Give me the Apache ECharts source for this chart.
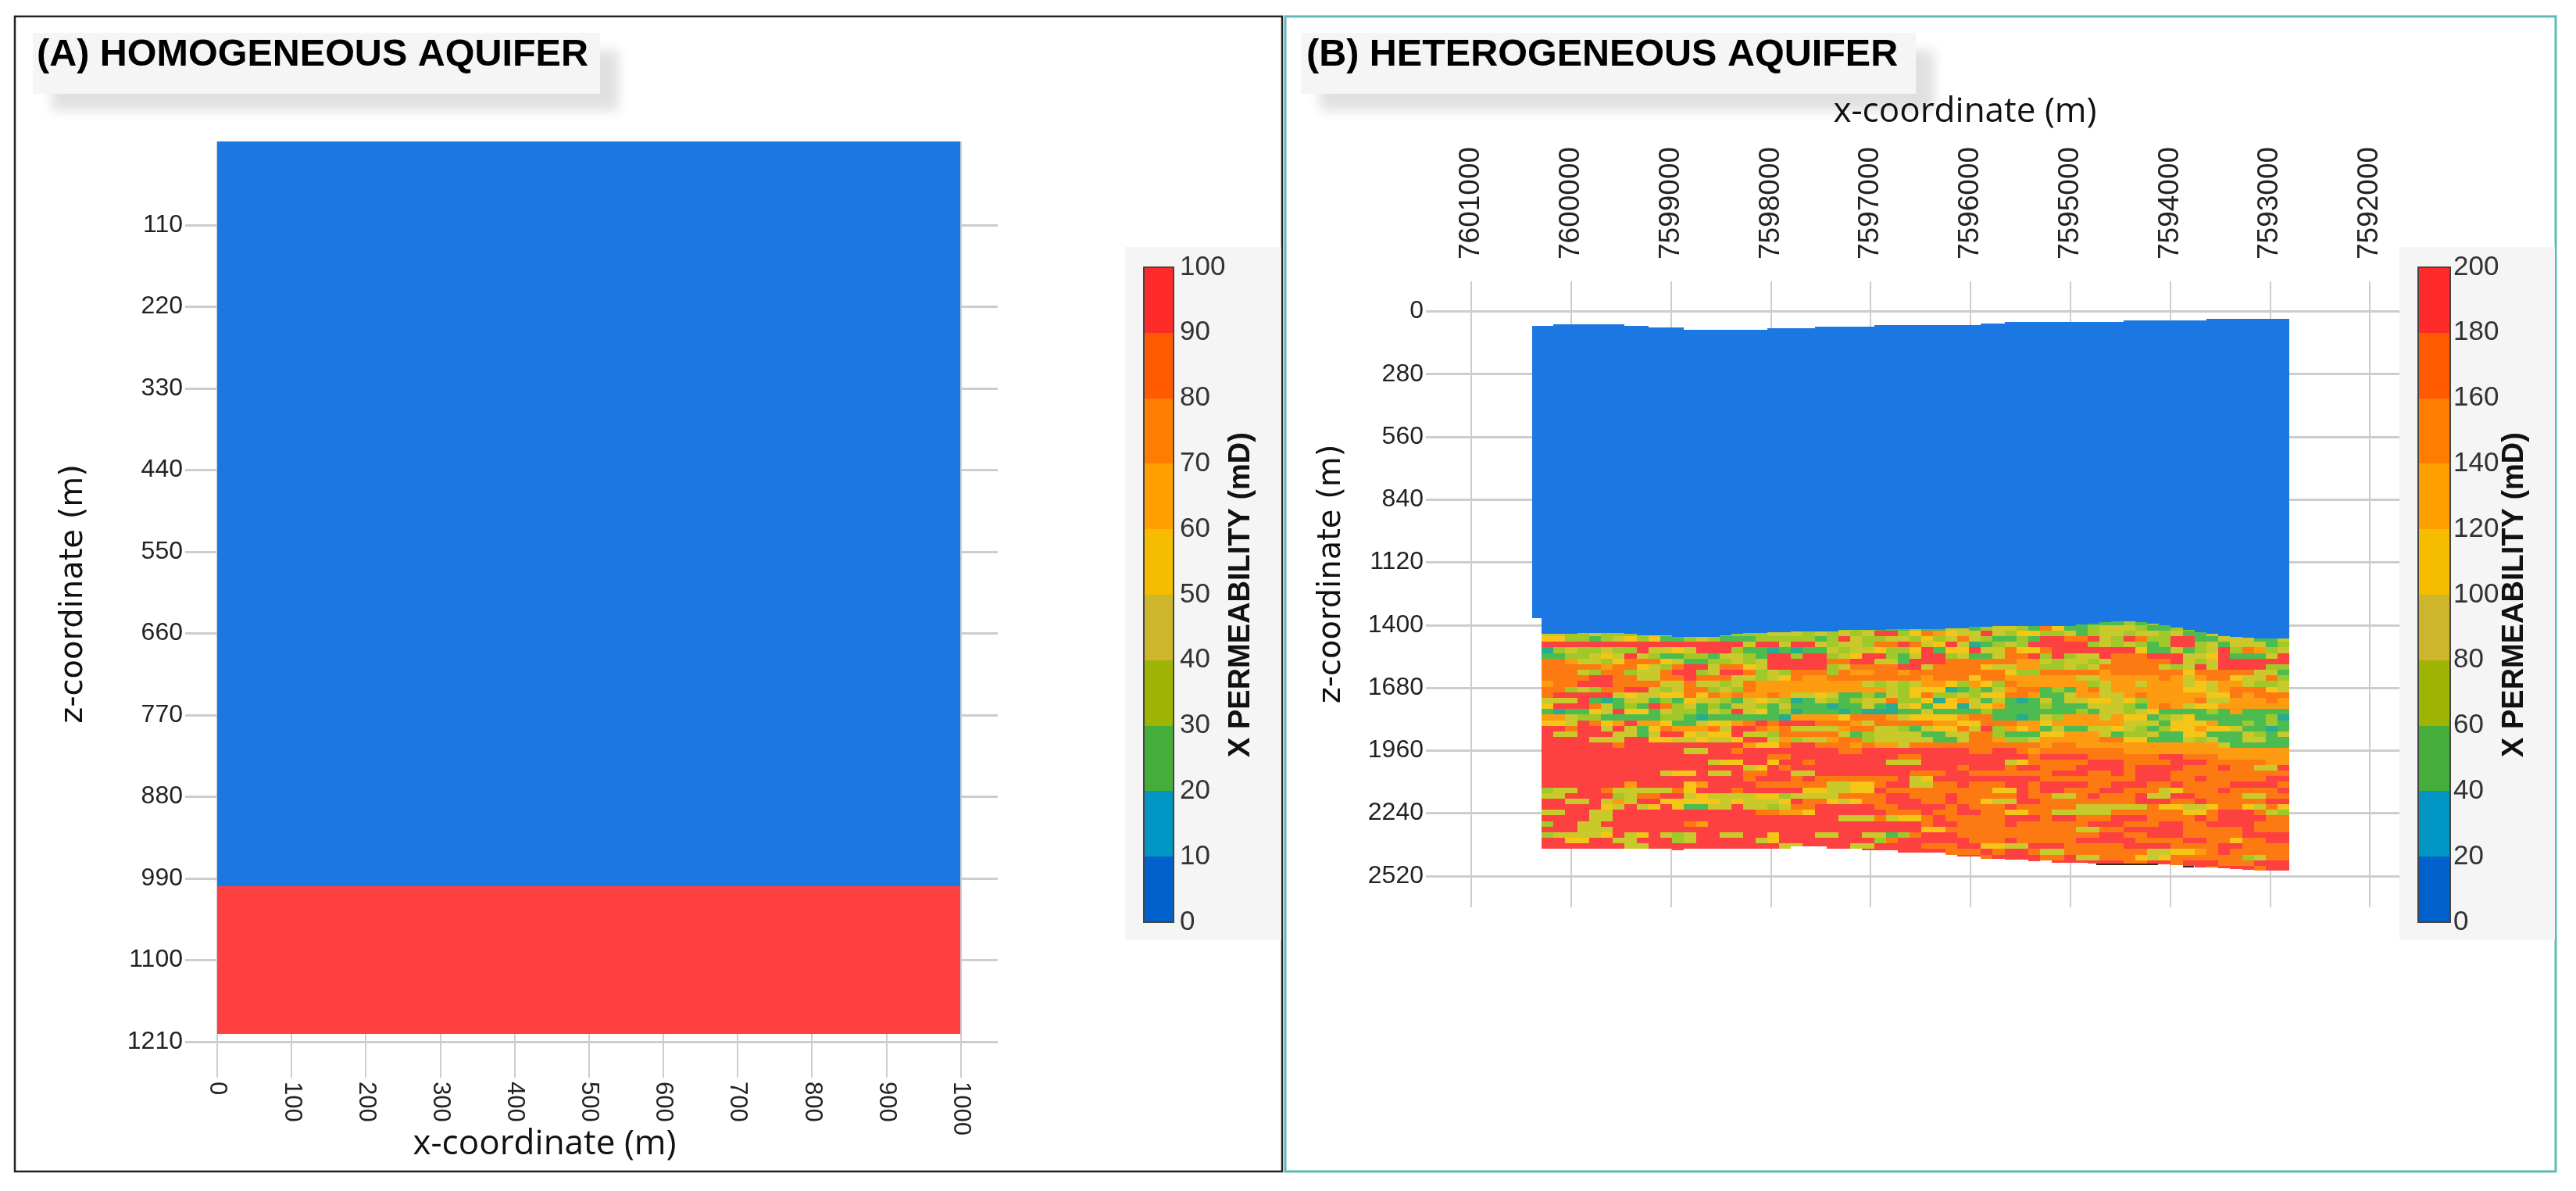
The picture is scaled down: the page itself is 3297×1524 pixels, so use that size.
<!DOCTYPE html>
<html><head><meta charset="utf-8">
<style>html,body{margin:0;padding:0;background:#fff}#c{width:3297px;height:1524px}</style>
<script src="https://cdn.jsdelivr.net/npm/echarts@6/dist/echarts.min.js"></script>
</head><body><div id="c"></div>
<script>
// ---------- data ----------
const panelTitles = ['(A) HOMOGENEOUS AQUIFER', '(B) HETEROGENEOUS AQUIFER'];
const xName = 'x-coordinate (m)';
const zName = 'z-coordinate (m)';
const barName = 'X PERMEABILITY (mD)';

const xTicksA = [0,100,200,300,400,500,600,700,800,900,1000];
const zTicksA = [110,220,330,440,550,660,770,880,990,1100,1210];
const xTicksB = [7601000,7600000,7599000,7598000,7597000,7596000,7595000,7594000,7593000,7592000];
const zTicksB = [0,280,560,840,1120,1400,1680,1960,2240,2520];

// homogeneous layers: x from, x to, z from, z to, permeability
const layersA = [
  [0,1000,-2.6,1000,5],
  [0,1000,1000,1199,100]
];

const barStepsA = [0,10,20,30,40,50,60,70,80,90,100];
const barStepsB = [0,20,40,60,80,100,120,140,160,180,200];
const barColors = ['#0060cc','#0095c2','#45ae3a','#9db502','#cdb52c','#f5bc00','#ffa000','#ff7d00','#ff5a00','#ff2a2a'];

// heterogeneous section: column / row geometry in metres
const columnCount = 63;
const columnStart = 7600295;
const columnWidth = 118.9;
const rowStart = 1375;
const rowHeight = 25;
// top of model, per column
const blueTop = [64,59,59,59,59,59,59,64,64,72,72,72,82,82,82,82,82,82,82,75,75,75,75,68,68,68,68,68,61,61,61,61,61,61,61,61,61,54,54,47,47,47,47,47,47,47,47,47,47,40,40,40,40,40,40,40,33,33,33,33,33,33,33];
// bottom of the low permeability (blue) zone, per column
const blueBottom = [1438,1438,1438,1436,1436,1436,1436,1440,1446,1446,1446,1452,1454,1454,1452,1446,1440,1434,1434,1431,1431,
  1428,1428,1428,1428,1422,1422,1422,1422,1417,1417,1417,1417,1417,1414,1413,1409,1409,1405,1405,1405,1405,
  1405,1405,1405,1399,1393,1388,1385,1385,1388,1393,1402,1411,1420,1432,1440,1448,1452,1457,1460,1460,1460];
// bottom of the model, per column
const hetBottom = [2397,2397,2397,2397,2397,2397,2397,2397,2397,2397,2397,2405,2399,2399,2399,2399,2399,2399,2399,2399,2399,
  2387,2387,2387,2399,2399,2399,2405,2405,2405,2417,2417,2417,2417,2428,2434,2434,2443,2443,2448,2448,2454,
  2451,2460,2460,2460,2463,2463,2463,2463,2463,2467,2467,2471,2475,2481,2481,2486,2490,2492,2495,2495,2495];
// extra low permeability strip on the left side of the model
const blueStub = [7600389,7600295,64,1369,5];
// dark streaks along the base of the model
const baseStreaks = [[7594740,7594120,2466,2473,0],[7593870,7593760,2474,2481,0]];

// permeability classes
const classValue = {r:190,o:170,a:150,y:130,k:110,g:90,G:50,t:30};
const classColor = {190:'#fd4040',170:'#fd7a12',150:'#fd9c10',130:'#f5c518',110:'#c9c92c',90:'#9fc828',50:'#4cbc50',30:'#28ac90'};

const hetRows = [
'ggggggg ggggggg ggggggg ggggggg ggggggg ggggggg GGGGGGG gGgGGGG GGGGGGG',
'ggggggg ggggggg ggggggg ggGkggg GGGgGGk kGgkkgG oyGGgkk kgGGggG GGGGGGG',
'kkggkgg gkykggk gggggkk kgkgkgk rrgyoay kkrkgyy ggkGgkk gkkgkGG kGGGGGG',
'yyggGgk ygyGGgk gGGGggg ggGgrkg gkkgygk okgGGgG rroorkg roggrrG GkkkGGk',
'rrrrrrr rrrrrrr rrrkrrk rrkgkkg oorokyr ktGgkgr rrrrgkg kgGgrrg kGkkkGg',
'tgkggkg grkkykr rrgGGtG tGGkgkk yggyrGy yrkkoyy orrrrrr ryGGkGg krgoagk',
'GGggkyk rkgGGgg GkkgGrr grrgkyr rgGkrrg kGGkoor grgkkro oorrrkk yrGGGkr',
'ooakkgy oooykGG ggkgkrr rrroorr kkGrrro oooooaa kgkkgko oooorkg krrrrrr',
'oooooao oykgorr kooykrr rrrgkoo oorrkoo ooykkaa ggkgkoo oookgkr krrrrgg',
'oookgoo gkkorrg krrogkg ooogoaa ooaoooo ooooygg oooooao oooooyo ooookkG',
'oooorro okkooro ookkgky oaaoooo ooooaoo oyooaaa aaakkaa aaaoaka ooykkog',
'aoorrro oookkok kgkoaaa aaaaaak gkgkaay gaygoaa aaaagka akaaaky kaakggk',
'oogkgoo rrkgkoo gkgoaaa aaaaaaa akgyyyt GgGkaoo GgGaoka aaaaayy kaoooyk',
'orrrrrk ykkyyoy oaoaaoa kkykGGg Gkgyogg kgyyooa GGkaakk aoaaaaa yyoaooo',
'kkkrGtG kkGgGyk kgGkykg tGkgGgk koggyty akGkGtG kGkkyyk ygaaaao kkaaaoa',
'yrrrokG gGrogkG gGkkgGk GGGtGGk GtkyGyy tkyaGGG gGGGkkk gGaoaky yaaaaaa',
'GtGGykr yyGkggG kgrkyGg tGGGtGt ttGGkGG GGgGGGG GGGgGkk gkyGGGG gGaGGGG',
'aakggGG GGGggGt GGGGGGt aaaayoo oakyyyy aooGGtG kgaaaka yyGgkyG GGGGGgt',
'yykroya raayGGk yyaoror rroooak oooooaa yyoooaa yaaaaaa kkkGyyy aGGgGgG',
'rrorrkr kGyoaaa okrroao kkkkaoo kkgGkyy okrgaya GkGGkky kgGgyya yykGGtG',
'rkkrrrk kGkrryk yyrkkgo ooookGg kkkkGGk koogGGG yyaaakG ggkGGyy GGGkgGk',
'rrrrkkk rryykky kkyrrka gkkaoog kkkkkGG kooaggk aaaaaoo yyGGGkg kGGkkGG',
'rrrrrro rrrrrrr rrrayyo rroooao aakoooo ooooooo aooaaaa aaaaaaa akGGGGG',
'rrrrrrr rrrrrkk rrorrrr rrrroor rrrrrrr roorroa ooooooo aaaaaaa aaaaaaa',
'rrrrrrr rrrrrrr rrrrroo rrrrrrr rroorrr rrrrrro rrrrooo ooorroo oaaaaaa',
'rrrrrrr rrrrrrr kyyrryr rorrrrr rkkkrrr rrrrkyo oooorrr oooorrr oooooaa',
'rrrrrrr rrrrrrr rrrkyro rrrrrrr rrrrrrr orrrorr ooorrrr orrrroo orookkr',
'rrrrrrr rrrkyyr kkroorr kkrrrrr rrrooor roooooo orrroor orrrooo ooooooo',
'rrrrrrr rrrrrrr rrrorrr orooooo oorkyrr rrrrrrr ooooooo orrroor ooooorr',
'rrrrrrr arrrrya rrrrooo oookkyy orrkkoo rooorro rrrroor rrooroo oorrrro',
'gkkrrok kkkkoyr rrorrrr ryykkyy roooooo oooyyro rrooorr oookyoo oroooor',
'kkrrrrg koorrky kkkkyyg kkkkooo orrooor oooooro okkoroo orkkrro oookkoo',
'rrkkrka krryyyy ykykkky rooykyo orrroor ooykkrr ooooooo orrroor ooooorr',
'rrrrryk rkyryGG kkrkkgk oorrrrr oorrrro roooroo oookkkk kkoyykk yooykoy',
'kkrrkkr rrrrrrr rrrrooa ayrrrrr roooroo rrooyyo okkkkko oooooyy orrrokg',
'rrrrkkr rrrrrrr rrrrrrr rrrrkkk okyyoro oooorrr orrooor rroooor orrrroo',
'grrkkrr rrrrroa rrrrrrr rrrrrrr rrrrorr ooooroo oooorrr ooorroo rrrrooo',
'rrrkkkr rrrrrrr rrrrrrr rrrrrrr rrrryyo ooooooo oookkoo rrrrroo ooorooo',
'gkkkkyr kyrkgkr rkkrryr rrkkrrk kGgorrr ooooooo ooooorr oorrroo ooorrrr',
'rryyrrk krrrgkr rrrrkyr rrrrrrr gorrrrr roooroo ooorrrr roooorr ooyoorr',
'rrrrrrr kkrrrrr rrrrrrk krrrrkk rrrrooo rryykkr rrooooo rrrrooo orroooo',
'rrrrrrr rrrrrrr rrrrrrr rrrrrrr rrrrrro oororro kkooooo ookkyya orooooo',
'rrrrrrr rrrrrrr rrrrrrr rrrrrrr rrrrroo rrorrrr oorkkoo oykyooo ooogkoo',
'rrrrrrr rrrrrrr rrrrrrr rrrrrrr rrrrrrr rrrrrrr rrrrrrr oorrorr rooorrr',
'rrrrrrr rrrrrrr rrrrrrr rrrrrrr rrrrrrr rrrrrrr rrrrrrr rrrrrrr orrrorr'
];

// ---------- build series data ----------
const hetCells = [];
hetRows.forEach((row, i) => {
  const chars = row.replace(/ /g, '');
  for (let c = 0; c < columnCount; c++) {
    const z0 = rowStart + i * rowHeight;
    const z1 = Math.min(z0 + rowHeight, hetBottom[c]);
    if (z1 > z0) hetCells.push([columnStart - c * columnWidth, columnStart - (c + 1) * columnWidth, z0, z1, classValue[chars[c]]]);
  }
});
const blueCells = [blueStub];
for (let c = 0; c < columnCount; c++) {
  blueCells.push([columnStart - c * columnWidth, columnStart - (c + 1) * columnWidth, blueTop[c], blueBottom[c], 5]);
}
const colorOfA = v => v >= 90 ? '#ff4040' : '#1b78e2';
const rectItem = fill => (params, api) => {
  const a = api.coord([api.value(0), api.value(2)]);
  const b = api.coord([api.value(1), api.value(3)]);
  const x0 = Math.round(Math.min(a[0], b[0])), x1 = Math.round(Math.max(a[0], b[0]));
  const y0 = Math.round(Math.min(a[1], b[1])), y1 = Math.round(Math.max(a[1], b[1]));
  return {type:'rect', shape:{x:x0, y:y0, width:x1-x0, height:y1-y0}, style:{fill:fill(api.value(4))}};
};
const barCells = steps => steps.slice(0, -1).map((s, i) => [0, 1, s, steps[i + 1], i]);
const rectSeries = (idx, data, fill) => ({
  type:'custom', xAxisIndex:idx, yAxisIndex:idx, data, renderItem:rectItem(fill),
  encode:{x:[0,1], y:[2,3]}, silent:true, animation:false, clip:false, progressive:0
});

// ---------- axes ----------
const LINE = '#cdcdcd';
const labelFont = 'Liberation Sans';
const valueAxis = (o) => {
  const lab = {fontFamily:labelFont, fontSize:o.size||32, color:'#222', margin:o.margin||4, rotate:o.rotate||0,
    customValues:o.ticks, formatter:v => String(v), hideOverlap:false, showMinLabel:true, showMaxLabel:true};
  return {
    type:'value', gridIndex:o.grid, min:o.min, max:o.max, inverse:!!o.inverse, position:o.position,
    axisLine:{show:false}, axisTick:{show:false, customValues:o.ticks},
    axisLabel:lab,
    splitLine:{show:true, lineStyle:{color:LINE, width:o.lineWidth||2}},
    name:o.name, nameLocation:'middle', nameGap:o.gap, nameMoveOverlap:false, nameRotate:o.nameRotate,
    nameTextStyle:{fontFamily:o.nameFont, fontSize:o.nameSize, color:'#111', padding:o.padding}
  };
};
const barAxisY = (grid, steps, margin) => ({
  type:'value', gridIndex:grid, min:steps[0], max:steps[steps.length-1], interval:steps[1]-steps[0], position:'right',
  axisLine:{show:false}, axisTick:{show:false}, splitLine:{show:false},
  axisLabel:{fontFamily:labelFont, fontSize:35, color:'#333', margin, formatter:v => String(v), showMinLabel:true, showMaxLabel:true},
  name:barName, nameLocation:'middle', nameRotate:90, nameGap:grid===2?68:64,
  nameTextStyle:{fontFamily:labelFont, fontWeight:'bold', fontSize:38, color:'#111'}, nameMoveOverlap:false
});
const barAxisX = grid => ({type:'value', gridIndex:grid, min:0, max:1, show:false});

const frameA = {type:'rect', z:-5, shape:{x:19,y:21,width:1622,height:1478}, style:{fill:'#fff',stroke:'#222',lineWidth:2.5}};
const frameB = {type:'rect', z:-4, shape:{x:1645,y:21,width:1626,height:1478}, style:{fill:'#fff',stroke:'#5fb9b9',lineWidth:3}};
const titleBox = (x, w) => ({type:'rect', z:-3, shape:{x, y:42, width:w, height:78},
  style:{fill:'#f5f5f5', shadowBlur:14, shadowOffsetX:24, shadowOffsetY:22, shadowColor:'rgba(0,0,0,0.12)'}});
const barBox = x => ({type:'rect', z:-3, shape:{x, y:316, width:x<2000?200:199, height:887}, style:{fill:'#f5f5f5'}});
const titleText = (x, t) => ({type:'text', z:5, x, y:71, style:{text:t, fontFamily:labelFont, fontWeight:'bold', fontSize:48.5, fill:'#000', verticalAlign:'middle'}});

const option = {
  backgroundColor:'#ffffff',
  animation:false,
  grid:[
    {left:237, top:181, width:1040, height:1198},
    {left:1825, top:360, width:1246, height:801},
    {left:1464, top:342, width:38, height:838, show:true, borderColor:'#444', borderWidth:2, backgroundColor:'transparent', z:3},
    {left:3095, top:342, width:41, height:838, show:true, borderColor:'#444', borderWidth:2, backgroundColor:'transparent', z:3}
  ],
  xAxis:[
    valueAxis({grid:0, min:-43, max:1050, position:'bottom', ticks:xTicksA, rotate:-90, margin:5, size:31,
      name:xName, gap:63, nameFont:'Open Sans', nameSize:44, padding:[0,120,0,0], lineWidth:2}),
    valueAxis({grid:1, min:7591703, max:7601454, inverse:true, position:'top', ticks:xTicksB, rotate:90, margin:28, size:37,
      name:xName, gap:195, nameFont:'Open Sans', nameSize:44, padding:[0,0,0,134], lineWidth:2}),
    barAxisX(2), barAxisX(3)
  ],
  yAxis:[
    valueAxis({grid:0, min:-2.6, max:1258.4, inverse:true, position:'left', ticks:zTicksA, margin:3,
      name:zName, gap:122, nameRotate:90, nameFont:'DejaVu Sans', nameSize:40, padding:[0,0,0,40], lineWidth:3}),
    valueAxis({grid:1, min:-134, max:2660, inverse:true, position:'left', ticks:zTicksB, margin:3,
      name:zName, gap:100, nameRotate:90, nameFont:'DejaVu Sans', nameSize:40, padding:[0,0,0,52], lineWidth:3}),
    barAxisY(2, barStepsA, 8), barAxisY(3, barStepsB, 4)
  ],
  graphic:{elements:[frameA, frameB, titleBox(42,726), titleBox(1665,787), barBox(1440), barBox(3071),
    titleText(47, panelTitles[0]), titleText(1672, panelTitles[1])]},
  series:[
    rectSeries(0, layersA, colorOfA),
    rectSeries(1, hetCells, v => classColor[v]),
    rectSeries(1, blueCells, () => '#1b78e2'),
    rectSeries(1, baseStreaks, () => '#3a2a1a'),
    rectSeries(2, barCells(barStepsA), i => barColors[i]),
    rectSeries(3, barCells(barStepsB), i => barColors[i])
  ]
};
echarts.init(document.getElementById('c'), null, {renderer:'canvas'}).setOption(option);
</script>
</body></html>
